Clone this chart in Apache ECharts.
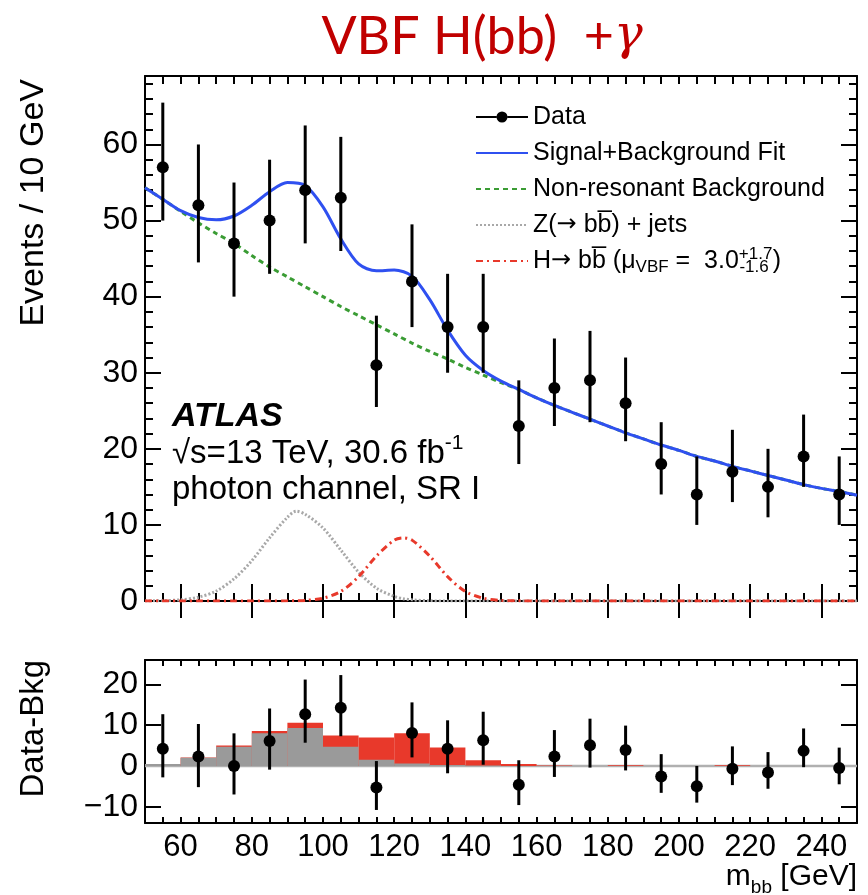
<!DOCTYPE html>
<html>
<head>
<meta charset="utf-8">
<script src="https://cdn.jsdelivr.net/npm/echarts@6/dist/echarts.min.js"></script>
<style>html,body{margin:0;padding:0;background:#fff}#c{width:868px;height:895px}</style>
</head>
<body>
<div id="c"></div>
<script>
// ---------------- data ----------------
const binCenters = [55,65,75,85,95,105,115,125,135,145,155,165,175,185,195,205,215,225,235,245];
const binLow     = [50,60,70,80,90,100,110,120,130,140,150,160,170,180,190,200,210,220,230,240];
const binHigh    = [60,70,80,90,100,110,120,130,140,150,160,170,180,190,200,210,220,230,240,250];
const dataCounts = [57,52,47,50,54,53,31,42,36,36,23,28,29,26,18,14,17,15,19,14];
const errUp      = [8.5,8,8,8,8.5,8,6.5,7.5,7,7,6,6.5,6.5,6,5.5,5,5.5,5,5.5,5];
const errDown    = [7,7.5,7,7,7,7,5.5,6,6,6,5,5,5.5,5,4,4,4,4,4,4];
const residuals  = [4.2,2.3,0.0,6.1,12.7,14.3,-5.3,8.1,4.2,6.3,-4.6,2.3,5.1,3.9,-2.6,-5.0,-0.7,-1.6,3.7,-0.5];

const curveMass = [50,55,60,65,70,75,80,85,90,95,100,105,110,115,120,125,130,135,140,145,150,155,160,165,170,175,180,185,190,195,200,205,210,215,220,225,230,235,240,245,250];
const fitTotal  = [54.3,52.8,51.3,50.4,50.1,50.6,52.0,53.8,55.0,54.6,51.8,47.6,44.3,43.4,43.5,42.7,39.6,35.6,32.3,30.3,28.9,27.8,26.7,25.7,24.8,23.9,23.0,22.1,21.3,20.5,19.8,19.0,18.4,17.7,17.1,16.5,15.9,15.3,14.8,14.4,13.9];
const bkgFit    = [54.3,52.8,51.2,49.7,48.3,47.0,45.4,43.9,42.6,41.3,40.0,38.7,37.5,36.3,35.1,33.9,32.8,31.8,30.7,29.7,28.7,27.8,26.7,25.7,24.8,23.9,23.0,22.1,21.3,20.5,19.8,19.0,18.4,17.7,17.1,16.5,15.9,15.3,14.8,14.4,13.9];

const sigMass   = [50,55,60,65,70,75,80,85,90,92.5,95,100,105,110,115,120,122.5,125,130,135,140,145,150,155,160,165,250];
const zJets     = [0,0.05,0.15,0.5,1.3,2.9,5.3,8.3,11.0,11.8,11.4,9.6,6.7,3.8,1.7,0.6,0.3,0.15,0.03,0,0,0,0,0,0,0,0];
const hSignal   = [0,0,0,0,0,0,0,0,0.02,0.04,0.08,0.37,1.25,3.2,5.9,8.0,8.3,8.0,5.9,3.2,1.25,0.37,0.08,0.02,0,0,0];

const histZ     = [0.5,2.0,4.7,8.0,9.3,4.7,1.5,0.6,0.25,0.1,0,0,0,0,0,0,0,0,0,0];
const histTotal = [0.5,2.1,5.0,8.6,10.6,7.5,7.0,8.0,4.5,1.4,0.5,0.1,0,0.2,0,0,0.2,0,0,0];

const xMajorTicks = [60,80,100,120,140,160,180,200,220,240];
const yMajorTop = [0,10,20,30,40,50,60];
const yMajorBottom = [-10,0,10,20];

// ---------------- chart ----------------
const FONT = 'Liberation Sans';
const chart = echarts.init(document.getElementById('c'), null, {renderer: 'canvas'});

const zip = (a, b) => a.map((v, i) => [v, b[i]]);

function renderErr(params, api) {
  const cs = params.coordSys;
  const x = api.value(0);
  const p = api.coord([x, api.value(1)]);
  const ph = api.coord([x, api.value(2)]);
  const pl = api.coord([x, api.value(3)]);
  const top = Math.max(cs.y, ph[1]);
  const bot = Math.min(cs.y + cs.height, pl[1]);
  const children = [{type: 'line', shape: {x1: p[0], y1: top, x2: p[0], y2: bot}, style: {stroke: '#000', lineWidth: 3}}];
  if (p[1] >= cs.y && p[1] <= cs.y + cs.height) {
    children.push({type: 'circle', shape: {cx: p[0], cy: p[1], r: 6}, style: {fill: '#000'}});
  }
  return {type: 'group', children};
}
function renderBin(color) {
  return function (params, api) {
    const a = api.coord([api.value(0), 0]);
    const b = api.coord([api.value(1), api.value(2)]);
    return {type: 'rect', shape: {x: a[0], y: Math.min(a[1], b[1]), width: b[0] - a[0], height: Math.abs(b[1] - a[1])}, style: {fill: color}};
  };
}

const tickStyle = {color: '#000', width: 2};
function ax(extra) {
  return Object.assign({
    type: 'value', splitLine: {show: false}, axisLabel: {show: false},
    axisLine: {show: false}, axisPointer: {show: false}
  }, extra);
}
const lineOn = {show: true, onZero: false, lineStyle: {color: '#000', width: 2}};

const xAxes = [
  ax({gridIndex: 0, position: 'bottom', min: 50, max: 250, interval: 5, axisLine: lineOn, axisTick: {inside: true, length: 8, lineStyle: tickStyle}}),
  ax({gridIndex: 0, position: 'bottom', min: 50, max: 250, axisTick: {inside: true, length: 17, lineStyle: tickStyle, customValues: xMajorTicks}}),
  ax({gridIndex: 0, position: 'top', min: 50, max: 250, interval: 5, axisLine: lineOn, axisTick: {inside: true, length: 8, lineStyle: tickStyle}}),
  ax({gridIndex: 0, position: 'top', min: 50, max: 250, axisTick: {inside: true, length: 17, lineStyle: tickStyle, customValues: xMajorTicks}}),
  ax({gridIndex: 1, position: 'bottom', min: 50, max: 250, interval: 5, axisLine: lineOn, axisTick: {inside: true, length: 6, lineStyle: tickStyle}}),
  ax({gridIndex: 1, position: 'bottom', min: 50, max: 250, axisTick: {show: false},
      axisLabel: {show: true, customValues: xMajorTicks, fontFamily: FONT, fontSize: 31, color: '#000', margin: 9}}),
  ax({gridIndex: 1, position: 'top', min: 50, max: 250, interval: 5, axisLine: lineOn, axisTick: {inside: true, length: 6, lineStyle: tickStyle}})
];
const yAxes = [
  ax({gridIndex: 0, position: 'left', min: 0, max: 69, interval: 2, axisLine: lineOn, axisTick: {inside: true, length: 8, lineStyle: tickStyle}}),
  ax({gridIndex: 0, position: 'left', min: 0, max: 69, axisTick: {inside: true, length: 16, lineStyle: tickStyle, customValues: yMajorTop},
      axisLabel: {show: true, customValues: yMajorTop, fontFamily: FONT, fontSize: 32, color: '#000', margin: 7}}),
  ax({gridIndex: 0, position: 'right', min: 0, max: 69, interval: 2, axisLine: lineOn, axisTick: {inside: true, length: 8, lineStyle: tickStyle}}),
  ax({gridIndex: 0, position: 'right', min: 0, max: 69, axisTick: {inside: true, length: 16, lineStyle: tickStyle, customValues: yMajorTop}}),
  ax({gridIndex: 1, position: 'left', min: -14, max: 26, axisLine: lineOn, axisTick: {inside: true, length: 16, lineStyle: tickStyle, customValues: yMajorBottom},
      axisLabel: {show: true, customValues: yMajorBottom, fontFamily: FONT, fontSize: 32, color: '#000', margin: 7,
        formatter: v => (v < 0 ? '\u2212' + Math.abs(v) : String(v))}}),
  ax({gridIndex: 1, position: 'right', min: -14, max: 26, axisLine: lineOn, axisTick: {inside: true, length: 16, lineStyle: tickStyle, customValues: yMajorBottom}})
];

const curveBase = {type: 'line', xAxisIndex: 0, yAxisIndex: 0, symbol: 'none', smooth: 0.3, silent: true, animation: false, clip: true};

const option = {
  animation: false,
  backgroundColor: '#fff',
  grid: [
    {left: 145, top: 76, width: 712, height: 525, containLabel: false, outerBoundsMode: 'none'},
    {left: 145, top: 660, width: 712, height: 163, containLabel: false, outerBoundsMode: 'none'}
  ],
  xAxis: xAxes,
  yAxis: yAxes,
  legend: {
    orient: 'vertical', left: 470, top: 97, itemWidth: 52, itemHeight: 30, itemGap: 6,
    selectedMode: false,
    itemStyle: {opacity: 0},
    data: [
      {name: 'Data', icon: 'path://M0,11H20.5V13H0Z M31.5,11H52V13H31.5Z M20.5,12A5.5,5.5 0 1 1 31.5,12A5.5,5.5 0 1 1 20.5,12Z', itemStyle: {opacity: 1, color: '#000'}},
      'Signal+Background Fit', 'Non-resonant Background', 'Z', 'H'
    ],
    formatter: function (name) {
      return {
        'Data': 'Data',
        'Signal+Background Fit': 'Signal+Background Fit',
        'Non-resonant Background': 'Non-resonant Background',
        'Z': 'Z({ar|\u2192} bb\u0305) + jets',
        'H': 'H{ar|\u2192} bb\u0305 (\u03bc{sub|VBF} =  3.0{sup|+1.7}{sub2|-1.6}{p|)}'
      }[name];
    },
    textStyle: {
      fontFamily: FONT, fontSize: 25, color: '#000', lineHeight: 30, padding: [0, 0, 0, 0],
      rich: {
        ar: {fontFamily: 'DejaVu Sans', fontSize: 24, lineHeight: 30},
        sub: {fontFamily: FONT, fontSize: 17, verticalAlign: 'bottom', lineHeight: 30},
        sup: {fontFamily: FONT, fontSize: 17, verticalAlign: 'top', lineHeight: 30},
        sub2: {fontFamily: FONT, fontSize: 17, verticalAlign: 'bottom', lineHeight: 30, padding: [0, 4, 0, -33]},
        p: {fontFamily: FONT, fontSize: 25, lineHeight: 30}
      }
    }
  },
  graphic: [
    {type: 'text', x: 482, y: 37, style: {
      text: 'VBF H(bb)  +{g|\u03b3}', fontFamily: 'Lato', fontSize: 52, fill: '#C00000', align: 'center', verticalAlign: 'middle',
      rich: {g: {fontFamily: 'DejaVu Serif', fontStyle: 'italic', fontSize: 48, fill: '#C00000'}}}},
    {type: 'text', x: 34, y: 79, rotation: Math.PI / 2, style: {
      text: 'Events / 10 GeV', fontFamily: FONT, fontSize: 34, fill: '#000', align: 'right', verticalAlign: 'middle'}},
    {type: 'text', x: 34, y: 660, rotation: Math.PI / 2, style: {
      text: 'Data-Bkg', fontFamily: FONT, fontSize: 33, fill: '#000', align: 'right', verticalAlign: 'middle'}},
    {type: 'text', x: 857, y: 877, style: {
      text: 'm{s|bb} [GeV]', fontFamily: FONT, fontSize: 30, fill: '#000', align: 'right', verticalAlign: 'middle',
      rich: {s: {fontFamily: FONT, fontSize: 19, verticalAlign: 'bottom', lineHeight: 40, fill: '#000'}}}},
    {type: 'text', x: 172, y: 417, style: {
      text: 'ATLAS', fontFamily: FONT, fontSize: 34, fontWeight: 'bold', fontStyle: 'italic', fill: '#000', align: 'left', verticalAlign: 'middle'}},
    {type: 'text', x: 172, y: 454, style: {
      text: '\u221As=13 TeV, 30.6 fb{sup|-1}', fontFamily: FONT, fontSize: 33, fill: '#000', align: 'left', verticalAlign: 'middle',
      rich: {sup: {fontFamily: FONT, fontSize: 21, verticalAlign: 'top', lineHeight: 42, fill: '#000'}}}},
    {type: 'text', x: 172, y: 490, style: {
      text: 'photon channel, SR I', fontFamily: FONT, fontSize: 33, fill: '#000', align: 'left', verticalAlign: 'middle'}}
  ],
  series: [
    Object.assign({}, curveBase, {name: 'Z', data: zip(sigMass, zJets), z: 3,
      lineStyle: {color: '#a8a8a8', width: 3, type: [2, 2]}, itemStyle: {color: '#a8a8a8'}}),
    Object.assign({}, curveBase, {name: 'H', data: zip(sigMass, hSignal), z: 3,
      lineStyle: {color: '#e8392b', width: 3, type: [7, 4, 2, 4]}, itemStyle: {color: '#e8392b'}}),
    Object.assign({}, curveBase, {name: 'Non-resonant Background', data: zip(curveMass, bkgFit), z: 4,
      lineStyle: {color: '#3a9c34', width: 3, type: [5, 4]}, itemStyle: {color: '#3a9c34'}}),
    Object.assign({}, curveBase, {name: 'Signal+Background Fit', data: zip(curveMass, fitTotal), z: 5,
      lineStyle: {color: '#2f50f0', width: 3}, itemStyle: {color: '#2f50f0'}}),
    {name: 'Data', type: 'custom', xAxisIndex: 0, yAxisIndex: 0, z: 10, silent: true,
      itemStyle: {color: '#000'},
      renderItem: renderErr,
      data: binCenters.map((x, i) => [x, dataCounts[i], dataCounts[i] + errUp[i], dataCounts[i] - errDown[i]])},
    // bottom panel
    {name: 'baseline', type: 'line', xAxisIndex: 4, yAxisIndex: 4, symbol: 'none', silent: true, z: 2,
      data: [[50, 0], [250, 0]], lineStyle: {color: '#b0b0b0', width: 2.5}},
    {name: 'histTotal', type: 'custom', xAxisIndex: 4, yAxisIndex: 4, z: 3, silent: true,
      renderItem: renderBin('#e8392b'),
      data: binLow.map((x, i) => [x, binHigh[i], histTotal[i]])},
    {name: 'histZ', type: 'custom', xAxisIndex: 4, yAxisIndex: 4, z: 4, silent: true,
      renderItem: renderBin('#9a9a9a'),
      data: binLow.map((x, i) => [x, binHigh[i], histZ[i]])},
    {name: 'Residual', type: 'custom', xAxisIndex: 4, yAxisIndex: 4, z: 10, silent: true,
      renderItem: renderErr,
      data: binCenters.map((x, i) => [x, residuals[i], residuals[i] + errUp[i], residuals[i] - errDown[i]])}
  ]
};
chart.setOption(option);
</script>
</body>
</html>
